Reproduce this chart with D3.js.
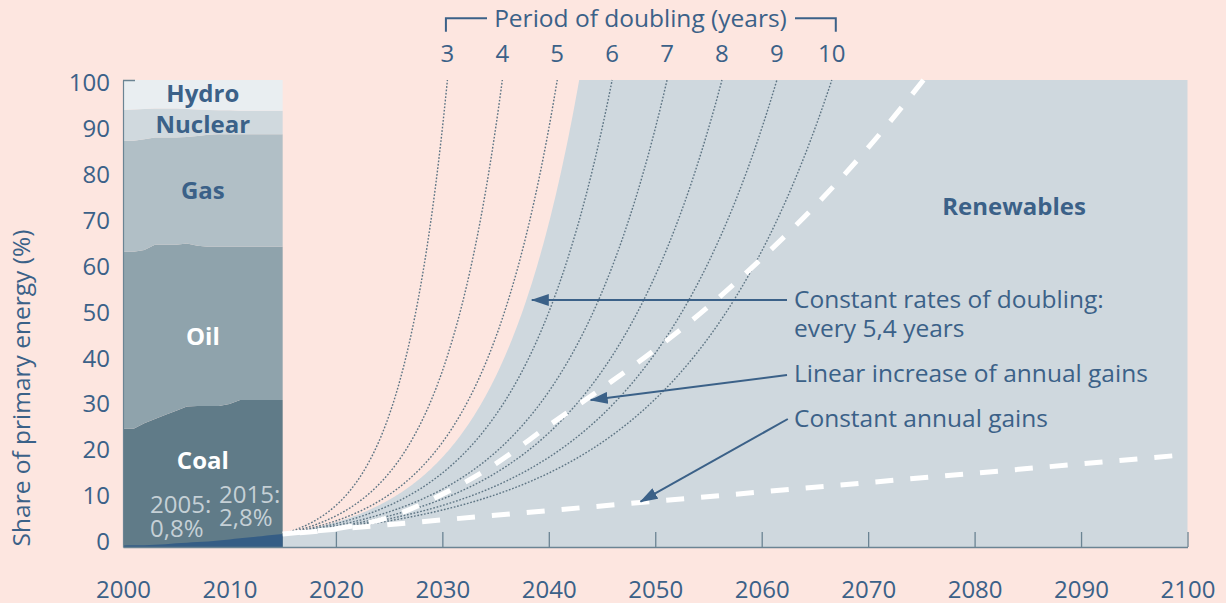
<!DOCTYPE html>
<html><head><meta charset="utf-8">
<script src="https://cdn.jsdelivr.net/npm/d3@7"></script>
<style>html,body{margin:0;padding:0;background:#fde6e0;} svg{display:block;font-family:"Open Sans",sans-serif;}</style>
</head><body><svg id="c" width="1226" height="603"></svg>
<script>
// ---- data ----
const years   = [2000,2001,2002,2003,2004,2005,2006,2007,2008,2009,2010,2011,2012,2013,2014,2015];
const coal    = [25.3,25.3,26.5,27.4,28.3,29.2,30.1,30.2,30.2,30.2,30.6,31.5,31.5,31.5,31.5,31.5];
const oil     = [37.9,37.9,37.1,37.3,36.4,35.5,34.9,34.3,34.1,34.1,33.7,32.8,32.8,32.8,32.8,32.8];
const gas     = [23.8,23.8,23.7,23.0,23.0,23.0,22.8,23.5,24.0,24.1,24.1,24.1,24.1,24.1,24.1,24.1];
const nuclear = [6.6,6.7,6.5,6.2,6.2,6.2,6.0,5.7,5.3,5.1,5.1,5.0,5.0,5.0,5.0,5.0];
const hydro   = [6.4,6.3,6.2,6.1,6.1,6.1,6.2,6.3,6.4,6.5,6.5,6.6,6.6,6.6,6.6,6.6];
const newRenewables = [0.3,0.35,0.4,0.5,0.6,0.8,0.9,1.05,1.2,1.4,1.6,1.85,2.1,2.3,2.55,2.8];

const startYear = 2015, startShare = 2.8;
const doublingPeriods = [3,4,5,6,7,8,9,10];
const boundaryPeriod = 5.4;

const linearGainYears  = [2015,2020,2025,2030,2035,2040,2045,2050,2055,2060,2065,2070,2075.2];
const linearGainValues = [2.8,3.9,6.4,11.3,17.8,26.0,34.0,42.3,51.5,61.8,73.0,85.5,100];
const constGainYears  = [2015,2100];
const constGainValues = [2.8,19.8];

const xTicks = [2000,2010,2020,2030,2040,2050,2060,2070,2080,2090,2100];
const xInnerTicks = [2020,2030,2040,2050,2060,2070,2080,2090,2100];
const yTicks = [0,10,20,30,40,50,60,70,80,90,100];

// ---- setup ----
const svg = d3.select("#c");
const BLUE = "#3b6188";
const FS = "24.5px";
const x = d3.scaleLinear().domain([2000,2100]).range([123,1187.5]);
const y = d3.scaleLinear().domain([0,100]).range([547,80]);
const yLab = d3.scaleLinear().domain([0,100]).range([541.7,83.3]);

svg.append("rect").attr("width",1226).attr("height",603).attr("fill","#fde6e0");

const defs = svg.append("defs");
defs.append("marker").attr("id","arr").attr("viewBox","0 0 18 12").attr("refX",17).attr("refY",6)
  .attr("markerWidth",18).attr("markerHeight",12).attr("markerUnits","userSpaceOnUse").attr("orient","auto")
  .append("path").attr("d","M0,0 L18,6 L0,12 Z").attr("fill",BLUE);

const doubling = (T,t) => startShare*Math.pow(2,(t-startYear)/T);
const endYear = T => startYear + T*Math.log2(100/startShare);

// grey future area bounded by the 5.4-year doubling curve
const tb = endYear(boundaryPeriod);
const greyPts = [];
for (let t=startYear; t<tb; t+=0.1) greyPts.push([t, doubling(boundaryPeriod,t)]);
greyPts.push([tb,100]); greyPts.push([2100,100]);
svg.append("path").datum(greyPts)
  .attr("d", d3.area().x(d=>x(d[0])).y0(y(0)).y1(d=>y(d[1])))
  .attr("fill","#cfd8de");

// stacked historical shares
const rows = years.map((yr,i)=>({year:yr,coal:coal[i],oil:oil[i],gas:gas[i],nuclear:nuclear[i],hydro:hydro[i]}));
const keys = ["coal","oil","gas","nuclear","hydro"];
const colors = {coal:"#607b88",oil:"#8fa3ac",gas:"#b1bfc6",nuclear:"#d0d9de",hydro:"#e9eef1"};
const stack = d3.stack().keys(keys)(rows);
svg.append("g").selectAll("path").data(stack).join("path")
  .attr("fill",d=>colors[d.key])
  .attr("d", d3.area().x(d=>x(d.data.year)).y0(d=>y(d[0])).y1(d=>y(d[1])));

// new renewables
svg.append("path").datum(years.map((yr,i)=>[yr,newRenewables[i]]))
  .attr("d", d3.area().x(d=>x(d[0])).y0(y(0)).y1(d=>y(d[1])).curve(d3.curveMonotoneX))
  .attr("fill","#355d85");

// dotted doubling curves
const line = d3.line().x(d=>x(d[0])).y(d=>y(d[1]));
doublingPeriods.forEach(T=>{
  const te = endYear(T), pts=[];
  for (let t=startYear; t<te; t+=0.1) pts.push([t, doubling(T,t)]);
  pts.push([te,100]);
  svg.append("path").datum(pts).attr("d",line).attr("fill","none")
    .attr("stroke","#5e7584").attr("stroke-width",1.4).attr("stroke-dasharray","1.7,1.7");
});

// white dashed scenario lines
const lin = svg.append("path").datum(linearGainYears.map((t,i)=>[t,linearGainValues[i]]))
  .attr("d", d3.line().x(d=>x(d[0])).y(d=>y(d[1])).curve(d3.curveMonotoneX))
  .attr("fill","none").attr("stroke","#fff").attr("stroke-width",5).attr("stroke-dasharray","18,17");
const L = lin.node().getTotalLength();
lin.attr("stroke-dashoffset", ((18 - (L % 35)) + 35) % 35);
svg.append("path").datum(constGainYears.map((t,i)=>[t,constGainValues[i]]))
  .attr("d", line).attr("fill","none").attr("stroke","#fff").attr("stroke-width",5).attr("stroke-dasharray","18,17");

// axes
const axColor = "#6b8493";
const xa = svg.append("g").attr("transform","translate(0,546)")
  .call(d3.axisBottom(x).tickValues(xTicks).tickFormat(d3.format("d")).tickSize(0).tickPadding(35));
xa.select(".domain").remove();
xa.selectAll("text").attr("fill",BLUE).style("font-size","24px").style("font-family","'Open Sans',sans-serif");

const xi = svg.append("g").attr("transform","translate(0,547)")
  .call(d3.axisTop(x).tickValues(xInnerTicks).tickFormat("").tickSize(15).tickSizeOuter(0));
xi.select(".domain").attr("stroke",axColor).attr("stroke-width",1.6);
xi.selectAll(".tick line").attr("stroke",axColor).attr("stroke-width",1.3);

const ya = svg.append("g").attr("transform","translate(123,0)")
  .call(d3.axisLeft(yLab).tickValues(yTicks).tickSize(0).tickPadding(13));
ya.select(".domain").remove();
ya.selectAll("text").attr("fill",BLUE).style("font-size","24px").style("font-family","'Open Sans',sans-serif");

const yl = svg.append("g").attr("transform","translate(123,0)")
  .call(d3.axisRight(y).tickValues([100]).tickFormat("").tickSize(12).tickSizeOuter(0));
yl.select(".domain").attr("stroke",axColor).attr("stroke-width",1.2);
yl.selectAll(".tick line").attr("stroke",axColor).attr("stroke-width",1.5);

// top axis: period of doubling
const topG = svg.append("g");
doublingPeriods.forEach(T=>{
  topG.append("text").attr("x",x(endYear(T))).attr("y",61.7).attr("text-anchor","middle")
    .attr("fill",BLUE).style("font-size","24px").text(T);
});
topG.append("text").attr("x",640.5).attr("y",27.3).attr("text-anchor","middle")
  .attr("fill",BLUE).style("font-size",FS).text("Period of doubling (years)");
topG.append("path").attr("d",`M${x(endYear(3))-1.5},31.7 V18.3 H487`).attr("fill","none").attr("stroke",BLUE).attr("stroke-width",2);
topG.append("path").attr("d",`M795,18.3 H${x(endYear(10))+4} V31.7`).attr("fill","none").attr("stroke",BLUE).attr("stroke-width",2);

// y axis title
svg.append("text").attr("transform","translate(29.5,388) rotate(-90)").attr("text-anchor","middle")
  .attr("fill",BLUE).style("font-size",FS).text("Share of primary energy (%)");

// area labels
const mid = (x(2000)+x(2015))/2;
const lab = (t,xx,yy,fill,weight,anchor,fs) => svg.append("text").attr("x",xx).attr("y",yy)
  .attr("text-anchor",anchor||"middle").attr("fill",fill).attr("font-weight",weight||"normal")
  .style("font-size",fs||FS).text(t);
lab("Hydro",mid,102.3,BLUE,"bold","middle","24px");
lab("Nuclear",mid,133.3,BLUE,"bold","middle","24px");
lab("Gas",mid,199.3,BLUE,"bold","middle","24px");
lab("Oil",mid,345,"#fff","bold","middle","24px");
lab("Coal",mid,469.3,"#fff","bold","middle","24px");
lab("2005:",150,513.3,"#c5d0d6","normal","start","24px");
lab("0,8%",150,537,"#c5d0d6","normal","start","24px");
lab("2015:",219,502.7,"#c5d0d6","normal","start","24px");
lab("2,8%",219,526,"#c5d0d6","normal","start","24px");
lab("Renewables",1014,215,BLUE,"bold","middle","24px");

// annotations
lab("Constant rates of doubling:",794,308.3,BLUE,"normal","start");
lab("every 5,4 years",794,336.7,BLUE,"normal","start");
lab("Linear increase of annual gains",794,381.7,BLUE,"normal","start");
lab("Constant annual gains",794,426.7,BLUE,"normal","start");

const arrow = (x1,y1,x2,y2) => svg.append("line").attr("x1",x1).attr("y1",y1).attr("x2",x2).attr("y2",y2)
  .attr("stroke",BLUE).attr("stroke-width",2).attr("marker-end","url(#arr)");
arrow(787,300,531.8,300);
arrow(787,375,590.7,400);
arrow(787.8,419,640.5,501.7);
</script></body></html>
